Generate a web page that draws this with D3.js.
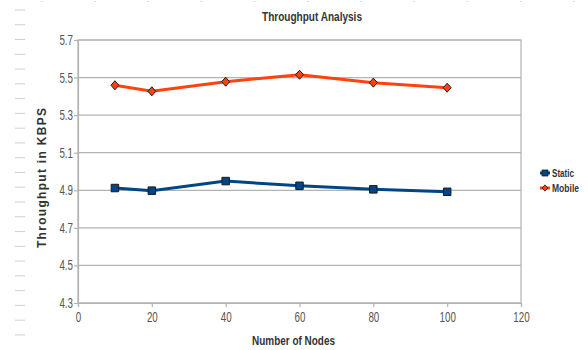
<!DOCTYPE html>
<html>
<head>
<meta charset="utf-8">
<script src="https://cdnjs.cloudflare.com/ajax/libs/d3/7.8.5/d3.min.js"></script>
<style>
body { margin: 0; background: #fff; }
text { font-family: "Liberation Sans", sans-serif; }
</style>
</head>
<body>
<script>
// DATA
var nodes = [10, 20, 40, 60, 80, 100];
var static_values = [4.912, 4.898, 4.949, 4.924, 4.905, 4.892];
var mobile_values = [5.459, 5.427, 5.478, 5.515, 5.473, 5.446];
var x_ticks = [0, 20, 40, 60, 80, 100, 120];
var y_ticks = [4.3, 4.5, 4.7, 4.9, 5.1, 5.3, 5.5, 5.7];

// rhombus marker, a bit wider than d3's diamond
var rhombus = {
	draw: function(context, size) {
		var r = Math.sqrt(size) / 2;
		context.moveTo(0, -r * 1.15);
		context.lineTo(r, 0);
		context.lineTo(0, r * 1.15);
		context.lineTo(-r, 0);
		context.closePath();
	}
};

var series = [
	{"name": "Static", "values": static_values, "color": "#004586", "symbol": d3.symbolSquare},
	{"name": "Mobile", "values": mobile_values, "color": "#ff420e", "symbol": rhombus}
];

var width = 588, height = 350;
var plot = {"left": 78, "right": 521, "top": 40, "bottom": 303};

var svg = d3.select("body")
	.append("svg")
	.attr("width", width)
	.attr("height", height);

// page decorations (left ruler dashes, top dots)
svg.selectAll("line.dash")
	.data(d3.range(23))
	.enter()
	.append("line")
	.attr("x1", 15).attr("x2", 25)
	.attr("y1", function(d){ return 10 + d * 14.77 })
	.attr("y2", function(d){ return 10 + d * 14.77 })
	.attr("stroke", "#d0d0d0");

svg.selectAll("rect.dot")
	.data(d3.range(11))
	.enter()
	.append("rect")
	.attr("x", function(d){ return 41 + d * 53.2 })
	.attr("y", 1).attr("width", 1.5).attr("height", 1)
	.attr("fill", "#d0d0d0");

var x = d3.scaleLinear().domain([0, 120]).range([plot.left, plot.right]);
var y = d3.scaleLinear().domain([4.3, 5.7]).range([plot.bottom, plot.top]);

// grid
svg.selectAll("line.grid")
	.data(y_ticks)
	.enter()
	.append("line")
	.attr("x1", plot.left).attr("x2", plot.right)
	.attr("y1", function(d){ return y(d) })
	.attr("y2", function(d){ return y(d) })
	.attr("stroke", "#b3b3b3")
	.attr("stroke-width", 1.2);

svg.append("rect")
	.attr("x", plot.left).attr("y", plot.top)
	.attr("width", plot.right - plot.left)
	.attr("height", plot.bottom - plot.top)
	.attr("fill", "none")
	.attr("stroke", "#b3b3b3")
	.attr("stroke-width", 1.2);

// axes
var y_axis = svg.append("g")
	.attr("transform", "translate(" + plot.left + ",0)")
	.call(d3.axisLeft(y).tickValues(y_ticks).tickFormat(d3.format(".1f")).tickSize(4).tickPadding(2));
var x_axis = svg.append("g")
	.attr("transform", "translate(0," + plot.bottom + ")")
	.call(d3.axisBottom(x).tickValues(x_ticks).tickSize(4).tickPadding(5));

[y_axis, x_axis].forEach(function(a){
	a.select(".domain").attr("stroke", "#b3b3b3").attr("stroke-width", 1.2);
	a.selectAll(".tick line").attr("stroke", "#b3b3b3").attr("stroke-width", 1.2);
	a.selectAll(".tick text").attr("fill", "#555").attr("font-size", 14)
		.attr("font-family", "'Liberation Sans', sans-serif");
});
// condensed look for tick labels
y_axis.selectAll(".tick text").attr("x", 0).attr("transform", "translate(-5,0) scale(0.7,1)");
x_axis.selectAll(".tick text").attr("transform", "scale(0.7,1)");

// lines and markers
var line = d3.line()
	.x(function(d, i){ return x(nodes[i]) })
	.y(function(d){ return y(d) });

series.forEach(function(s){
	svg.append("path")
		.datum(s.values)
		.attr("d", line)
		.attr("fill", "none")
		.attr("stroke", s.color)
		.attr("stroke-width", 3);
	svg.selectAll(null)
		.data(s.values)
		.enter()
		.append("path")
		.attr("d", d3.symbol().type(s.symbol).size(s.symbol === d3.symbolSquare ? 56 : 62))
		.attr("transform", function(d, i){ return "translate(" + x(nodes[i]) + "," + y(d) + ")" })
		.attr("fill", s.color)
		.attr("stroke", "#1a1a1a")
		.attr("stroke-width", 1);
});

// titles
svg.append("text")
	.attr("x", 262).attr("y", 21)
	.attr("textLength", 100).attr("lengthAdjust", "spacingAndGlyphs")
	.attr("font-size", 13).attr("font-weight", "bold")
	.attr("fill", "#333")
	.text("Throughput Analysis");

svg.append("text")
	.attr("x", 252).attr("y", 345)
	.attr("textLength", 83).attr("lengthAdjust", "spacingAndGlyphs")
	.attr("font-size", 13).attr("font-weight", "bold")
	.attr("fill", "#333")
	.text("Number of Nodes");

svg.append("text")
	.attr("transform", "translate(46,248) rotate(-90)")
	.attr("textLength", 140).attr("lengthAdjust", "spacing")
	.attr("font-size", 12).attr("font-weight", "bold")
	.attr("fill", "#333")
	.text("Throughput in KBPS");

// legend
var legend = svg.selectAll("g.legend")
	.data(series)
	.enter()
	.append("g")
	.attr("transform", function(d, i){ return "translate(545," + (173 + i * 15) + ")" });
legend.append("line")
	.attr("x1", -5).attr("x2", 5)
	.attr("stroke", function(d){ return d.color })
	.attr("stroke-width", 3);
legend.append("path")
	.attr("d", function(d){ return d3.symbol().type(d.symbol).size(d.symbol === d3.symbolSquare ? 36 : 30)() })
	.attr("fill", function(d){ return d.color })
	.attr("stroke", "#1a1a1a")
	.attr("stroke-width", 0.8);
legend.append("text")
	.attr("x", 7).attr("y", 4)
	.attr("font-size", 11).attr("font-weight", "bold")
	.attr("fill", "#333")
	.attr("textLength", function(d){ return d.name === "Static" ? 22 : 27 })
	.attr("lengthAdjust", "spacingAndGlyphs")
	.text(function(d){ return d.name });
</script>
</body>
</html>
